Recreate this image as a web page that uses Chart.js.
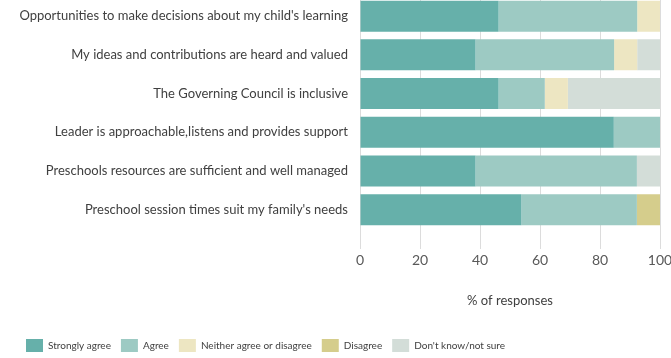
<!DOCTYPE html>
<html lang="en">
<head>
    <meta charset="UTF-8">
    <script src="https://cdn.jsdelivr.net/npm/chart.js"></script>
    <title>Preschool survey</title>
    <style>
        html, body { margin: 0; padding: 0; background: #fff; overflow: hidden; }
        #surveyChart { position: absolute; left: 0; top: -23px; }
    </style>
</head>
<body>

<canvas id="surveyChart" width="700" height="385"></canvas>

<script>
    // Survey statements and % of responses per answer
    const statements = [
        "Opportunities to make decisions about my child's learning",
        "My ideas and contributions are heard and valued",
        "The Governing Council is inclusive",
        "Leader is approachable,listens and provides support",
        "Preschools resources are sufficient and well managed",
        "Preschool session times suit my family's needs"
    ];
    const stronglyAgree = [46.2, 38.5, 46.2, 84.6, 38.5, 53.8];
    const agree         = [46.2, 46.2, 15.4, 15.4, 53.8, 38.5];
    const neither       = [7.7, 7.7, 7.7, 0, 0, 0];
    const disagree      = [0, 0, 0, 0, 0, 7.7];
    const dontKnow      = [0, 7.7, 30.8, 0, 7.7, 0];
    const xTicks = [0, 20, 40, 60, 80, 100];

    const font = "Lato, 'Open Sans', sans-serif";

    function series(label, data, color) {
        return {
            label: label,
            data: data,
            backgroundColor: color,
            borderWidth: 0,
            barPercentage: 0.8,
            categoryPercentage: 1.0
        };
    }

    new Chart(document.getElementById("surveyChart"), {
        type: 'bar',
        data: {
            labels: statements,
            datasets: [
                series('Strongly agree', stronglyAgree, '#66b0aa'),
                series('Agree', agree, '#9dcac3'),
                series('Neither agree or disagree', neither, '#ede6c2'),
                series('Disagree', disagree, '#d5cd8c'),
                series("Don't know/not sure", dontKnow, '#d3ddd8')
            ]
        },
        options: {
            indexAxis: 'y',
            responsive: false,
            animation: false,
            layout: { padding: { left: 16, right: 40, top: 0, bottom: 0 } },
            plugins: {
                tooltip: { enabled: false },
                legend: {
                    position: 'bottom',
                    align: 'start',
                    labels: {
                        boxWidth: 17,
                        boxHeight: 13,
                        padding: 10,
                        color: '#404040',
                        font: { family: font, size: 10 }
                    }
                }
            },
            scales: {
                x: {
                    stacked: true,
                    min: 0,
                    max: 100,
                    afterBuildTicks: axis => { axis.ticks = xTicks.map(v => ({ value: v })); },
                    afterFit: axis => { axis.height = 100; },
                    grid: { color: '#dcdcdc', tickLength: 20 },
                    border: { display: false },
                    ticks: { color: '#595959', padding: 3, font: { family: font, size: 14 } },
                    title: {
                        display: true,
                        text: '% of responses',
                        color: '#404040',
                        padding: { top: 4, bottom: 20 },
                        font: { family: font, size: 13 }
                    }
                },
                y: {
                    stacked: true,
                    afterFit: axis => { axis.width = 344; },
                    grid: { display: false, drawTicks: false, tickLength: 0 },
                    border: { display: false },
                    ticks: { color: '#404040', padding: 12, font: { family: font, size: 13 } }
                }
            }
        }
    });
</script>
</body>
</html>
